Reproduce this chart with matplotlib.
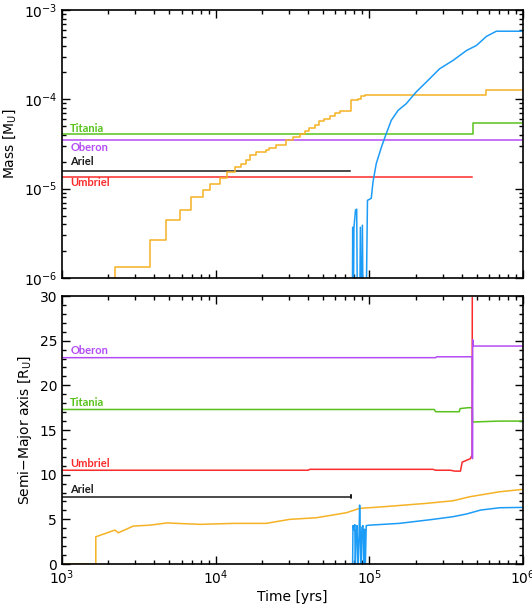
import matplotlib
matplotlib.use('Agg')
import matplotlib.pyplot as plt
from matplotlib.ticker import LogLocator, MultipleLocator, NullFormatter

# moon colours
moon_colors = {'Titania': '#58c21c', 'Oberon': '#b44cf5', 'Ariel': '#1a1a1a',
               'Umbriel': '#fb2b2b'}
orange = '#f5b225'
blue = '#1c9cf7'

# ---- mass of the original moons [M_U] ----
titania_m_t = [1e3, 4.7e5, 4.7e5, 1e6]
titania_m = [4.08e-5, 4.08e-5, 5.4e-5, 5.4e-5]
oberon_m_t = [1e3, 1e6]
oberon_m = [3.48e-5, 3.48e-5]
ariel_m_t = [1e3, 7.45e4]
ariel_m = [1.57e-5, 1.57e-5]
umbriel_m_t = [1e3, 4.67e5]
umbriel_m = [1.36e-5, 1.36e-5]

# ---- mass of the two new bodies ----
orange_m_t = [1e3, 2.22e3, 3.72e3, 4.77e3, 5.88e3, 6.89e3, 8.3e3, 9.25e3, 1.06e4,
              1.19e4, 1.34e4, 1.46e4, 1.57e4, 1.68e4, 1.84e4, 2.13e4, 2.24e4,
              2.48e4, 2.88e4, 3.2e4, 3.52e4, 3.8e4, 4.08e4, 4.4e4, 4.74e4, 5.1e4,
              5.51e4, 6.0e4, 6.41e4, 7.26e4, 7.55e4, 8.43e4, 8.87e4, 9.31e4,
              5.78e5, 1e6]
orange_m = [1e-7, 1.33e-6, 2.66e-6, 4.48e-6, 5.8e-6, 7.97e-6, 9.55e-6, 1.14e-5,
            1.32e-5, 1.53e-5, 1.73e-5, 1.91e-5, 2.12e-5, 2.37e-5, 2.57e-5,
            2.69e-5, 2.86e-5, 3.08e-5, 3.48e-5, 3.75e-5, 4.06e-5, 4.4e-5, 4.78e-5,
            5.2e-5, 5.73e-5, 6.1e-5, 6.58e-5, 7.0e-5, 7.35e-5, 7.4e-5, 9.93e-5,
            1.007e-4, 1.08e-4, 1.13e-4, 1.26e-4, 1.26e-4]

blue_m_t = [7.73e4, 7.8e4, 7.85e4, 7.94e4, 8.13e4, 8.28e4, 8.41e4, 8.61e4, 8.75e4,
            8.87e4, 9.02e4, 9.16e4, 9.44e4, 9.73e4, 1.03e5, 1.057e5, 1.11e5,
            1.2e5, 1.29e5, 1.39e5, 1.54e5, 1.74e5, 2.02e5, 2.47e5, 2.87e5,
            3.51e5, 4.29e5, 4.98e5, 5.78e5, 6.71e5, 1e6]
blue_m = [1e-7, 3.7e-6, 1e-7, 3.6e-6, 5.75e-6, 5.9e-6, 1e-7, 1e-7, 3.7e-6, 1e-7,
          3.9e-6, 1e-7, 1e-7, 7.4e-6, 7.8e-6, 1.19e-5, 1.91e-5, 2.93e-5, 4.14e-5,
          5.82e-5, 7.53e-5, 8.95e-5, 1.21e-4, 1.70e-4, 2.20e-4, 2.73e-4, 3.52e-4,
          4.01e-4, 5.06e-4, 5.79e-4, 5.79e-4]

# ---- semi-major axes [R_U] ----
oberon_a_t = [1e3, 2.7e5, 2.75e5, 4.68e5, 4.69e5, 4.71e5, 4.74e5, 1e6]
oberon_a = [23.1, 23.1, 23.2, 23.2, 11.8, 25.1, 24.4, 24.4]
titania_a_t = [1e3, 2.65e5, 2.7e5, 3.85e5, 3.9e5, 4.4e5, 4.68e5, 4.7e5, 7e5, 1e6]
titania_a = [17.3, 17.3, 17.05, 17.05, 17.4, 17.5, 17.5, 15.9, 16.0, 16.0]
umbriel_a_t = [1e3, 4.0e4, 4.1e4, 2.6e5, 2.7e5, 3.37e5, 3.6e5, 3.92e5, 4.02e5,
               4.55e5, 4.67e5, 4.68e5]
umbriel_a = [10.5, 10.5, 10.6, 10.6, 10.5, 10.5, 10.4, 10.4, 11.4, 11.8, 12.2, 29.8]
ariel_a_t = [1e3, 7.6e4, 7.6e4, 7.6e4]
ariel_a = [7.55, 7.55, 7.75, 7.35]

orange_a_t = [1e3, 1.66e3, 1.66e3, 2.21e3, 2.33e3, 2.91e3, 3.74e3, 4.81e3, 7.93e3,
              1.31e4, 2.13e4, 3.03e4, 4.52e4, 7.08e4, 8.65e4, 1.23e5, 2.35e5,
              3.51e5, 4.5e5, 7.06e5, 1e6]
orange_a = [0, 0, 3.05, 3.8, 3.5, 4.25, 4.35, 4.6, 4.44, 4.55, 4.55, 5.0, 5.18,
            5.74, 6.23, 6.41, 6.79, 7.08, 7.53, 8.09, 8.36]

blue_a_t = [7.78e4, 7.83e4, 7.95e4, 8.05e4, 8.11e4, 8.2e4, 8.32e4, 8.45e4, 8.6e4,
            8.65e4, 8.72e4, 8.83e4, 8.95e4, 9.1e4, 9.2e4, 9.3e4, 9.4e4, 9.55e4,
            1.0e5, 1.57e5, 2.6e5, 3.51e5, 4.29e5, 5.3e5, 7.06e5, 1e6]
blue_a = [-1, 4.3, 3.8, 4.4, -1, 3.5, 4.3, -1, 4.2, 6.6, 4.0, -1, 4.1, 4.3, -1,
          3.9, -1, 4.3, 4.35, 4.55, 5.0, 5.3, 5.6, 6.04, 6.3, 6.34]

lw = 1.1
fig = plt.figure(figsize=(5.32, 6.07), dpi=100)
ax1 = fig.add_axes([0.1165, 0.542, 0.8665, 0.4415])
ax2 = fig.add_axes([0.1165, 0.0708, 0.8665, 0.4415])

# top panel: masses
ax1.plot(titania_m_t, titania_m, color=moon_colors['Titania'], lw=lw, drawstyle='steps-post')
ax1.plot(oberon_m_t, oberon_m, color=moon_colors['Oberon'], lw=lw)
ax1.plot(ariel_m_t, ariel_m, color=moon_colors['Ariel'], lw=lw)
ax1.plot(umbriel_m_t, umbriel_m, color=moon_colors['Umbriel'], lw=lw)
ax1.plot(orange_m_t, orange_m, color=orange, lw=lw, drawstyle='steps-post')
ax1.plot(blue_m_t, blue_m, color=blue, lw=lw)
ax1.set_xscale('log')
ax1.set_yscale('log')
ax1.set_xlim(1e3, 1e6)
ax1.set_ylim(1e-6, 1e-3)
ax1.set_ylabel('Mass [M$_\\mathrm{U}$]', fontsize=10)
ax1.xaxis.set_major_formatter(NullFormatter())

top_labels = [('Titania', 4.75e-5), ('Oberon', 2.9e-5), ('Ariel', 2.0e-5),
              ('Umbriel', 1.17e-5)]
for name, yv in top_labels:
    ax1.text(1.13e3, yv, name, color=moon_colors[name], fontsize=8,
             fontweight='bold', family='Lato', va='center')

# bottom panel: semi-major axes
ax2.plot(titania_a_t, titania_a, color=moon_colors['Titania'], lw=lw)
ax2.plot(umbriel_a_t, umbriel_a, color=moon_colors['Umbriel'], lw=lw)
ax2.plot(oberon_a_t, oberon_a, color=moon_colors['Oberon'], lw=lw)
ax2.plot(ariel_a_t, ariel_a, color=moon_colors['Ariel'], lw=lw)
ax2.plot(orange_a_t, orange_a, color=orange, lw=lw)
ax2.plot(blue_a_t, blue_a, color=blue, lw=lw)
ax2.set_xscale('log')
ax2.set_xlim(1e3, 1e6)
ax2.set_ylim(0, 30)
ax2.yaxis.set_major_locator(MultipleLocator(5))
ax2.yaxis.set_minor_locator(MultipleLocator(1))
ax2.set_ylabel('Semi$-$Major axis [R$_\\mathrm{U}$]', fontsize=10)
ax2.set_xlabel('Time [yrs]', fontsize=10, labelpad=2)

bottom_labels = [('Oberon', 23.9), ('Titania', 18.1), ('Umbriel', 11.3),
                 ('Ariel', 8.3)]
for name, yv in bottom_labels:
    ax2.text(1.13e3, yv, name, color=moon_colors[name], fontsize=8,
             fontweight='bold', family='Lato', va='center')

for ax in (ax1, ax2):
    ax.xaxis.set_minor_locator(LogLocator(base=10, subs=range(2, 10), numticks=20))
    ax.tick_params(which='both', direction='in', top=True, right=True,
                   labelsize=10, width=1.0)
    ax.tick_params(which='major', length=6)
    ax.tick_params(which='minor', length=3)
    for s in ax.spines.values():
        s.set_linewidth(1.2)
ax1.yaxis.set_minor_locator(LogLocator(base=10, subs=range(2, 10), numticks=20))

fig.savefig('out.png', dpi=100)
